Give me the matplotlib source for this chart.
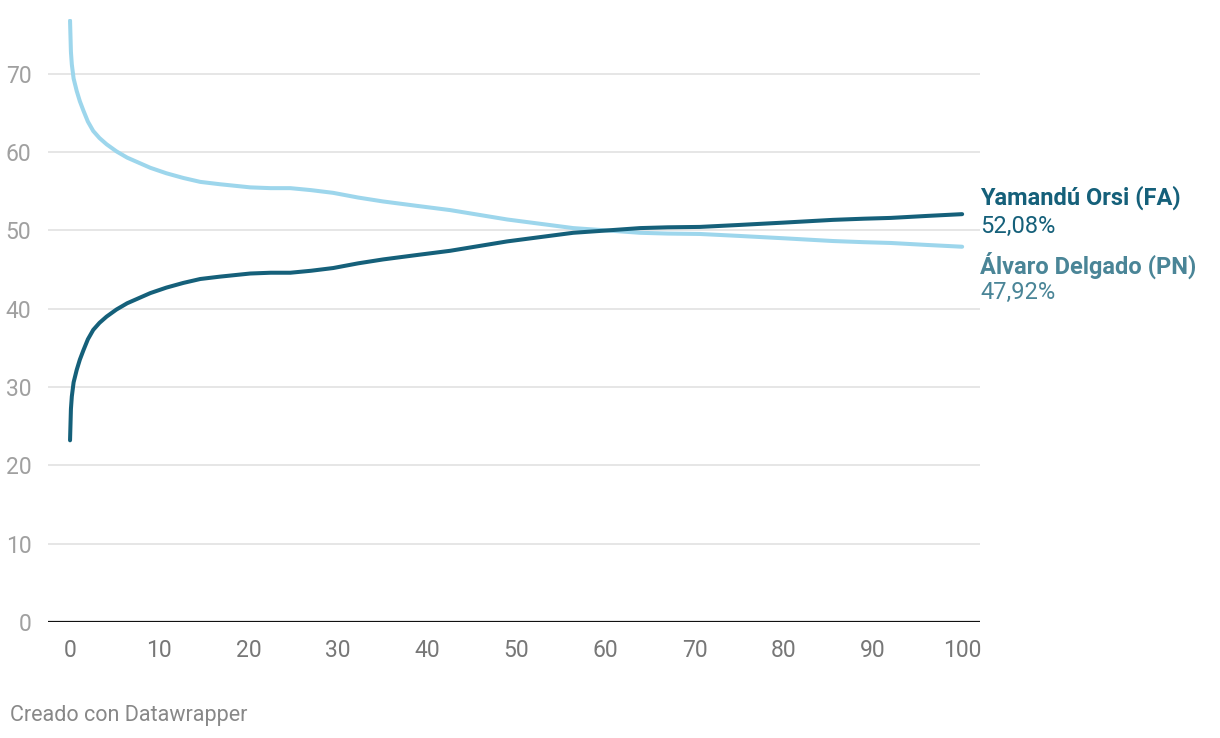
import matplotlib
matplotlib.use("Agg")
import matplotlib.pyplot as plt

plt.rcParams['font.family'] = ['Roboto', 'DejaVu Sans']

# % escrutado vs % de votos
escrutado = [0, 0.1, 0.2, 0.4, 0.75, 1.1, 1.5, 2.0, 2.6, 3.3, 4.1, 5.2, 6.4, 7.6, 9.0,
             10.8, 12.7, 14.6, 16.8, 20.2, 22.5, 24.7, 27.0, 29.5, 32.3, 35.1, 38.8,
             42.6, 45.8, 49.0, 52.7, 56.4, 60.2, 63.9, 67.0, 70.6, 75.0, 80.0, 85.5,
             89.0, 92.0, 96.0, 100]
orsi = [23.2, 27.2, 28.8, 30.6, 32.2, 33.5, 34.7, 36.1, 37.3, 38.2, 39.0, 39.9, 40.7,
        41.3, 42.0, 42.7, 43.3, 43.8, 44.1, 44.5, 44.6, 44.6, 44.85, 45.2, 45.8, 46.3,
        46.85, 47.4, 48.0, 48.6, 49.15, 49.7, 50.0, 50.3, 50.4, 50.45, 50.7, 51.0,
        51.35, 51.5, 51.6, 51.85, 52.08]
delgado = [76.8, 72.8, 71.2, 69.4, 67.8, 66.5, 65.3, 63.9, 62.7, 61.8, 61.0, 60.1,
           59.3, 58.7, 58.0, 57.3, 56.7, 56.2, 55.9, 55.5, 55.4, 55.4, 55.15, 54.8,
           54.2, 53.7, 53.15, 52.6, 52.0, 51.4, 50.85, 50.3, 50.0, 49.7, 49.6, 49.55,
           49.3, 49.0, 48.65, 48.5, 48.4, 48.15, 47.92]

yticks = [0, 10, 20, 30, 40, 50, 60, 70]
xticks = [0, 10, 20, 30, 40, 50, 60, 70, 80, 90, 100]

c_orsi = '#15607a'
c_delgado = '#9dd6ec'
c_delgado_txt = '#4a8597'

fig = plt.figure(figsize=(12.2, 7.38), dpi=100)
ax = fig.add_axes([48/1220, (738-622)/738, (980-48)/1220, (622-19)/738])

for y in yticks[1:]:
    ax.axhline(y, color='#e2e2e2', lw=1.2, zorder=0)
ax.axhline(0, color='#111111', lw=1.6, zorder=1)

ax.plot(escrutado, delgado, color=c_delgado, lw=2.9, solid_capstyle='round',
        solid_joinstyle='round', zorder=3)
ax.plot(escrutado, orsi, color=c_orsi, lw=2.9, solid_capstyle='round',
        solid_joinstyle='round', zorder=4)

ax.set_xlim(-2.47, 102.0)
ax.set_ylim(0, 77)
for s in ax.spines.values():
    s.set_visible(False)

ax.set_yticks(yticks)
ax.set_yticklabels([str(v) for v in yticks])
ax.set_xticks(xticks)
ax.set_xticklabels([str(v) for v in xticks])
ax.tick_params(axis='y', length=0, pad=12, labelsize=16.5, labelcolor='#a0a0a0')
ax.tick_params(axis='x', length=0, pad=12, labelsize=16.5, labelcolor='#777777')

# etiquetas de fin de línea
labels = [('Yamandú Orsi (FA)', 198, 'bold', c_orsi),
          ('52,08%', 226, 'normal', c_orsi),
          ('Álvaro Delgado (PN)', 265, 'bold', c_delgado_txt),
          ('47,92%', 292, 'normal', c_delgado_txt)]
for txt, ypx, weight, col in labels:
    ax.annotate(txt, xy=(1, 0), xycoords='axes fraction',
                xytext=(0, 622 - ypx), textcoords='offset pixels',
                fontsize=17, fontweight=weight, color=col, va='center', ha='left')

fig.text(10/1220, 1 - 715/738, 'Creado con Datawrapper', fontsize=15.5,
         color='#888888', va='center', ha='left')

fig.savefig('out.png', dpi=100)
